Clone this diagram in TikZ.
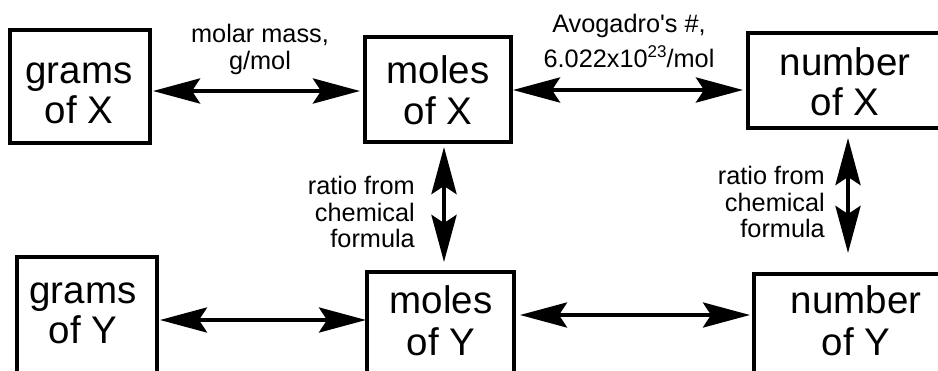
\documentclass[tikz,border=0pt]{standalone}
\usepackage{fontspec}
\setmainfont{Liberation Sans}[Ligatures=TeXOff]
\usetikzlibrary{arrows.meta}
\begin{document}
\begin{tikzpicture}[x=1pt,y=-1pt,
  box/.style={draw, line width=3.5pt, inner sep=0pt, outer sep=0pt, anchor=north west},
  bigtxt/.style={inner sep=0pt, align=center, font=\fontsize{38.5}{#1}\selectfont},
  lbl/.style={inner sep=0pt, font=\fontsize{25.3}{#1}\selectfont},
  arr/.style={line width=#1, {Stealth[length=47pt,width=25pt,inset=8pt]}-{Stealth[length=47pt,width=25pt,inset=8pt]}}
]
\useasboundingbox (0,0) rectangle (938,370);
\clip (0,0) rectangle (938,370);
% boxes
\node[box, minimum width=140pt, minimum height=113pt] (gx) at (10,30) {};
\node[box, minimum width=146pt, minimum height=105pt] (mx) at (365,37) {};
\node[box, minimum width=194pt, minimum height=95pt] (nx) at (748,33) {};
\node[box, minimum width=140pt, minimum height=143pt] (gy) at (17,257) {};
\node[box, minimum width=147pt, minimum height=128pt] (my) at (367,272) {};
\node[box, minimum width=204pt, minimum height=126pt] (ny) at (754,274) {};
% box texts
\node[bigtxt=39] (tgx) at (79,95.7) {\strut grams\\\strut of X};
\node[bigtxt=39] (tmx) at (438,95.7) {\strut moles\\\strut of X};
\node[bigtxt=40] (tnx) at (845,87) {\strut number\\\strut of X};
\node[bigtxt=40] (tgy) at (83,315) {\strut grams\\\strut of Y};
\node[bigtxt=42] (tmy) at (441,325.6) {\strut moles\\\strut of Y};
\node[bigtxt=42] (tny) at (856,325.6) {\strut number\\\strut of Y};
% labels
\node[lbl=26, align=center, anchor=north] (lmolar) at (260,23.8) {\strut molar mass,\\\strut g/mol};
\node[lbl=35, align=center, anchor=north] (lavo) at (629,7.5) {\strut Avogadro's \#,\\\strut 6.022x10\raisebox{10pt}{\fontsize{17}{17}\selectfont 23}/mol};
\node[lbl=24.5, align=right, anchor=north east] (lratio1) at (415,175.85) {\strut ratio from\\\strut chemical\\\strut formula};
\node[lbl=24.5, align=right, anchor=north east] (lratio2) at (825,165.85) {\strut ratio from\\\strut chemical\\\strut formula};
% connector rows/columns
\coordinate (r1) at (0,91);
\coordinate (r2) at (0,90);
\coordinate (r3) at (0,320);
\coordinate (r4) at (0,315);
\coordinate (c1) at (444,0);
\coordinate (c2) at (848,0);
% connectors
\draw[arr=4.5pt, shorten <=3pt, shorten >=5pt] (gx.east |- r1) -- (mx.west |- r1);
\draw[arr=4.5pt, shorten <=2pt, shorten >=5pt] (mx.east |- r2) -- (nx.west |- r2);
\draw[arr=4pt, shorten <=3pt, shorten >=1pt] (gy.east |- r3) -- (my.west |- r3);
\draw[arr=4pt, shorten <=6pt, shorten >=4pt] (my.east |- r4) -- (ny.west |- r4);
\draw[arr=4.5pt, shorten <=5pt, shorten >=10pt] (mx.south -| c1) -- (my.north -| c1);
\draw[arr=4.5pt, shorten <=10pt, shorten >=21pt] (nx.south -| c2) -- (ny.north -| c2);
\end{tikzpicture}
\end{document}
